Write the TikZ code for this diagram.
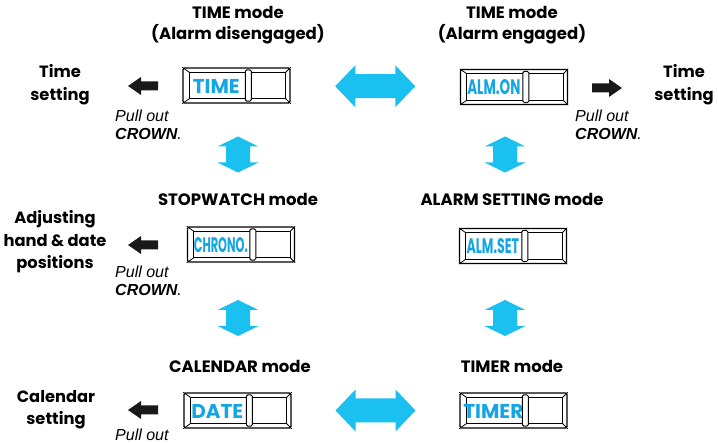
\documentclass[tikz,border=0pt]{standalone}
\usepackage{fontspec}
\usepackage{graphicx}
\usetikzlibrary{calc}
\setmainfont{Liberation Sans}
\newfontfamily\pop{Poppins}
\definecolor{arrowblue}{RGB}{25,192,240}
\definecolor{dispblue}{RGB}{20,165,228}
\newcommand\titlef{\pop\fontsize{16.5}{21}\selectfont\bfseries}
\newcommand\sidef{\pop\fontsize{16.3}{22.5}\selectfont\bfseries}
\newcommand\pullf{\fontsize{16}{18}\selectfont}
\newcommand\dispf{\pop\fontsize{20}{20}\selectfont\bfseries}
\newcommand\narrowd[2]{\fontsize{21}{21}\selectfont\bfseries\scalebox{#1}[1]{#2}}
\newcommand\display[4]{%
 \node[disp] (#1) at (#2,#3) {};
 \draw[line width=0.9pt] ([shift={(7,5)}]#1.north west) rectangle ([shift={(-5,-5)}]#1.south east);
 \draw[line width=0.8pt] (#1.north west) -- ++(7,5) (#1.north east) -- ++(-5,5)
   (#1.south west) -- ++(7,-5) (#1.south east) -- ++(-5,-5);
 \node[dtext] (#1t) at ([shift={(34,0.5)}]#1.west) {#4};
 \draw[line width=1pt, fill=white, rounded corners=1.5pt] ([shift={(63,2.5)}]#1.north west) rectangle ([shift={(69,-2.5)}]#1.south west);
}
\begin{document}
\begin{tikzpicture}[x=1pt,y=-1pt]
\useasboundingbox (0,0) rectangle (718,443);
\tikzset{
 disp/.style={draw, line width=1.3pt, rounded corners=1.5pt, minimum width=107pt, minimum height=35pt, inner sep=0pt},
 title/.style={font=\titlef, align=center},
 side/.style={font=\sidef, align=center},
 pull/.style={font=\pullf, align=left, anchor=west, inner sep=0pt},
 dtext/.style={text=dispblue, font=\dispf, inner sep=0pt},
 hdbl/.pic={\fill[arrowblue] (-40,0) -- (-20,-21) -- (-20,-12) -- (20,-12) -- (20,-21) -- (40,0) -- (20,21) -- (20,12) -- (-20,12) -- (-20,21) -- cycle;},
 vdbl/.pic={\fill[arrowblue] (0,-18) -- (20.5,-8) -- (12,-8) -- (12,8) -- (20.5,8) -- (0,18) -- (-20.5,8) -- (-12,8) -- (-12,-8) -- (-20.5,-8) -- cycle;},
 blk/.pic={\fill[black!90] (0,0) -- (13,-9) -- (13,-4.5) -- (30,-4.5) -- (30,4.5) -- (13,4.5) -- (13,9) -- cycle;}
}
% titles
\node[title] (t1) at (238,25.5) {TIME mode\\(Alarm disengaged)};
\node[title] (t2) at (512,25.5) {TIME mode\\(Alarm engaged)};
\node[title] (t3) at (238,199) {STOPWATCH mode};
\node[title] (t4) at (512,199) {ALARM SETTING mode};
\node[title] (t5) at (240,366) {CALENDAR mode};
\node[title] (t6) at (512,366) {TIMER mode};
% displays
\display{d1}{236.5}{85.5}{TIME}
\display{d2}{514}{87}{\narrowd{0.64}{ALM.ON}}
\display{d3}{241}{244.5}{\narrowd{0.54}{CHRONO.}}
\display{d4}{513}{246}{\narrowd{0.6}{ALM.SET}}
\display{d5}{237.5}{410.5}{DATE}
\display{d6}{513.5}{410.5}{TIMER}
% side labels
\node[side] (s1) at (60,84.5) {Time\\setting};
\node[side] (s2) at (684,84.5) {Time\\setting};
\node[side] (s3) at (55,242) {Adjusting\\hand \& date\\positions};
\node[side] (s4) at (56,409.5) {Calendar\\setting};
% pull out notes
\node[pull] (p1) at (115,125) {\itshape Pull out\\\bfseries\itshape CROWN\mdseries.};
\node[pull] (p2) at (575,125) {\itshape Pull out\\\bfseries\itshape CROWN\mdseries.};
\node[pull] (p3) at (115,281) {\itshape Pull out\\\bfseries\itshape CROWN\mdseries.};
\node[pull] (p4) at (115,435) {\itshape Pull out};
% black arrows
\pic at (128,86) {blk};
\pic[xscale=-1] at (622,88) {blk};
\pic at (128,245) {blk};
\pic at (128,410) {blk};
% blue double arrows
\pic at ($(d1.east)!0.5!(d2.west)$) {hdbl};
\pic at ($(d5.east)!0.5!(d6.west)$) {hdbl};
\pic at (238,154.5) {vdbl};
\pic at (505,154.5) {vdbl};
\pic at (238,318) {vdbl};
\pic at (505,318) {vdbl};
\end{tikzpicture}
\end{document}
